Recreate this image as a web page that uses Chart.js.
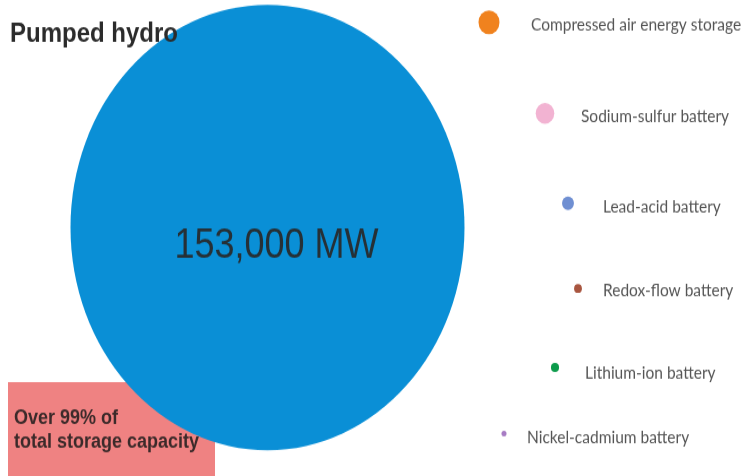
<!DOCTYPE html>
<html>
<head>
<meta charset="utf-8">
<script src="https://cdn.jsdelivr.net/npm/chart.js@4/dist/chart.umd.min.js"></script>
<style>
  html, body { margin: 0; padding: 0; background: #fff; }
  #frame { width: 744px; height: 476px; overflow: hidden; }
  /* the whole figure is a bit taller than it is wide */
  #wrap { width: 744px; height: 421px; transform: scaleY(1.1306); transform-origin: 0 0; }
</style>
</head>
<body>
<div id="frame"><div id="wrap"><canvas id="storage" width="744" height="421"></canvas></div></div>
<script>
// installed storage capacity by technology, MW
const technologies = [
  'Pumped hydro',
  'Compressed air energy storage',
  'Sodium-sulfur battery',
  'Lead-acid battery',
  'Redox-flow battery',
  'Lithium-ion battery',
  'Nickel-cadmium battery'
];
const capacityMW = [153000, 435, 340, 140, 60, 65, 25];
const colors = ['#0a8fd6', '#f0821e', '#f2b3d2', '#6f8fd2', '#a8553f', '#0b9a4a', '#a77cc4'];

// where each bubble sits (x/y scale units) and where its label goes
const posX = [267.5, 489, 545, 568, 578, 555, 504];
const posY = [201.3, 19.8, 100.2, 179.8, 255.2, 325.0, 383.4];
const labelX = [null, 531, 581, 603, 603, 585, 527];
const labelY = [null, 21.6, 103, 182.5, 257, 330, 387];

const maxRadius = 197;
const total = capacityMW.reduce((a, b) => a + b, 0);

const bubbles = technologies.map((name, i) => ({
  x: posX[i],
  y: posY[i],
  r: Math.sqrt(capacityMW[i] / capacityMW[0]) * maxRadius
}));

const textPlugin = {
  id: 'storageText',
  beforeDatasetsDraw(chart) {
    const ctx = chart.ctx;
    ctx.save();
    ctx.fillStyle = '#ef8282';
    ctx.fillRect(8, 338, 207, 90);
    ctx.restore();
  },
  afterDatasetsDraw(chart) {
    const ctx = chart.ctx;
    const pts = chart.getDatasetMeta(0).data;
    const y = chart.scales.y;
    ctx.save();
    ctx.textBaseline = 'middle';

    // big bubble: name above, value inside
    ctx.fillStyle = '#2b2b2b';
    ctx.font = 'bold 24px "Liberation Sans", Arial, sans-serif';
    ctx.textAlign = 'left';
    ctx.fillText(technologies[0], 10, 30);

    ctx.fillStyle = '#263036';
    ctx.font = '36px "Liberation Sans", Arial, sans-serif';
    ctx.textAlign = 'center';
    ctx.fillText(capacityMW[0].toLocaleString('en-US') + ' MW', pts[0].x + 9, pts[0].y + 17);

    // share box
    const share = Math.floor(100 * capacityMW[0] / total);
    ctx.fillStyle = '#3b2a2a';
    ctx.font = 'bold 18px "Liberation Sans", Arial, sans-serif';
    ctx.textAlign = 'left';
    ctx.fillText('Over ' + share + '% of', 14, 370);
    ctx.fillText('total storage capacity', 14, 391);

    // small technologies
    ctx.fillStyle = '#555';
    ctx.font = '15.5px Lato, sans-serif';
    for (let i = 1; i < pts.length; i++) {
      ctx.fillText(technologies[i], labelX[i], y.getPixelForValue(labelY[i]));
    }
    ctx.restore();
  }
};

new Chart(document.getElementById('storage'), {
  type: 'bubble',
  data: {
    datasets: [{
      data: bubbles,
      backgroundColor: colors,
      borderWidth: 0,
      hoverBorderWidth: 0,
      clip: false
    }]
  },
  options: {
    responsive: false,
    animation: false,
    events: [],
    layout: { autoPadding: false, padding: 0 },
    scales: {
      x: { type: 'linear', min: 0, max: 744, display: false },
      y: { type: 'linear', min: 0, max: 421, reverse: true, display: false }
    },
    plugins: {
      legend: { display: false },
      tooltip: { enabled: false }
    }
  },
  plugins: [textPlugin]
});
</script>
</body>
</html>
